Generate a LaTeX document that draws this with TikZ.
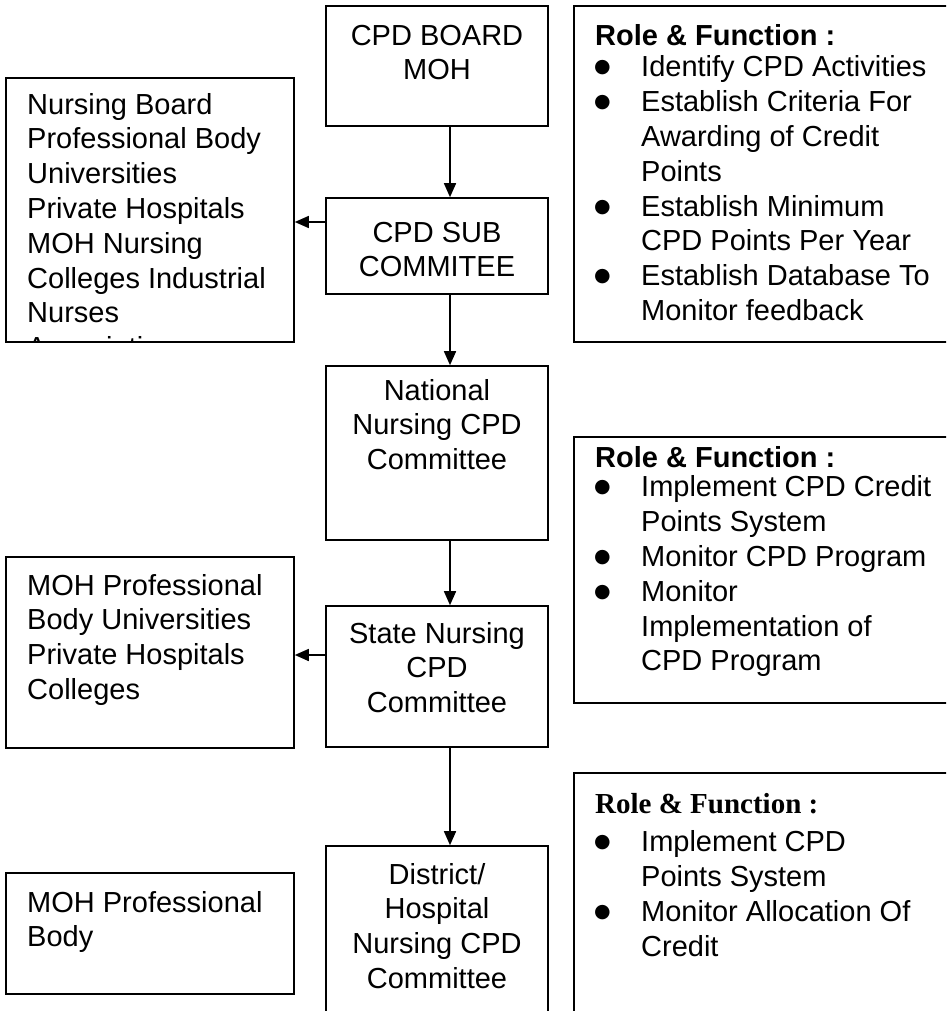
\documentclass[tikz,border=0pt]{standalone}
\usepackage{fontspec}
\setmainfont{Liberation Sans}
\newfontfamily\serifhead{Liberation Serif}
\newfontfamily\dotfont{DejaVu Sans}
\usetikzlibrary{arrows.meta}
\newcommand{\bul}{\raisebox{4pt}{\dotfont\fontsize{19}{19}\selectfont ●}}

\begin{document}
\begin{tikzpicture}[
	x=1pt, y=-1pt,
	font=\fontsize{29}{34.8}\selectfont,
	box/.style={
		draw,
		rectangle,
		line width=1.6pt,
		inner sep=0pt
	},
	txt/.style={
		inner sep=0pt
	},
	arrow/.style={
		-{Triangle[length=14pt,width=12pt]},
		line width=1.6pt
	}
	]
	\clip (0,0) rectangle (946,1011);
	\coordinate (spine) at (450,0);

	% middle column
	\node[box, minimum width=222pt, minimum height=120pt] (board) at (437,66) {};
	\node[box, minimum width=222pt, minimum height=96pt] (sub) at (437,246) {};
	\node[box, minimum width=222pt, minimum height=174pt] (national) at (437,453) {};
	\node[box, minimum width=222pt, minimum height=141pt] (state) at (437,676.5) {};
	\node[box, minimum width=222pt, minimum height=184pt] (district) at (437,938) {};

	\node[txt, anchor=north] (boardtxt) at (437,20.6) {\begin{tabular}{@{}c@{}}CPD BOARD\\MOH\end{tabular}};
	\node[txt, anchor=north] (subtxt) at (437,217.6) {\begin{tabular}{@{}c@{}}CPD SUB\\COMMITEE\end{tabular}};
	\node[txt, anchor=north] (nationaltxt) at (437,375.6) {\begin{tabular}{@{}c@{}}National\\Nursing CPD\\Committee\end{tabular}};
	\node[txt, anchor=north] (statetxt) at (437,618.6) {\begin{tabular}{@{}c@{}}State Nursing\\CPD\\Committee\end{tabular}};
	\node[txt, anchor=north] (districttxt) at (437,859.6) {\begin{tabular}{@{}c@{}}District/\\Hospital\\Nursing CPD\\Committee\end{tabular}};

	% left column
	\node[box, minimum width=288pt, minimum height=264pt] (left1) at (150,210) {};
	\node[box, minimum width=288pt, minimum height=191pt] (left2) at (150,652.5) {};
	\node[box, minimum width=288pt, minimum height=121pt] (left3) at (150,933.5) {};

	\begin{scope}
		\clip (left1.north west) rectangle (left1.south east);
		\node[txt, anchor=north west] (left1txt) at (27,89.6) {\begin{tabular}{@{}l@{}}Nursing Board\\Professional Body\\Universities\\Private Hospitals\\MOH Nursing\\Colleges Industrial\\Nurses\\Associations\end{tabular}};
	\end{scope}
	\node[txt, anchor=north west] (left2txt) at (27,570.6) {\begin{tabular}{@{}l@{}}MOH Professional\\Body Universities\\Private Hospitals\\Colleges\end{tabular}};
	\node[txt, anchor=north west] (left3txt) at (27,887.6) {\begin{tabular}{@{}l@{}}MOH Professional\\Body\end{tabular}};

	% right column
	\node[box, minimum width=386pt, minimum height=336pt] (role1) at (767,174) {};
	\node[box, minimum width=386pt, minimum height=266pt] (role2) at (767,570) {};
	\node[box, minimum width=386pt, minimum height=257pt] (role3) at (767,901.5) {};

	\node[txt, anchor=north west] (role1txt) at (594,20.6) {\begin{tabular}{@{}p{47pt}@{}l@{}}
		\multicolumn{2}{@{}l@{}}{\hspace*{1pt}\textbf{Role \& Function :}}\\[-3pt]
		\bul & Identify CPD Activities\\
		\bul & Establish Criteria For\\
		& Awarding of Credit\\
		& Points\\
		\bul & Establish Minimum\\
		& CPD Points Per Year\\
		\bul & Establish Database To\\
		& Monitor feedback
	\end{tabular}};
	\node[txt, anchor=north west] (role2txt) at (594,442.6) {\begin{tabular}{@{}p{47pt}@{}l@{}}
		\multicolumn{2}{@{}l@{}}{\hspace*{1pt}\textbf{Role \& Function :}}\\[-5pt]
		\bul & Implement CPD Credit\\
		& Points System\\
		\bul & Monitor CPD Program\\
		\bul & Monitor\\
		& Implementation of\\
		& CPD Program
	\end{tabular}};
	\node[txt, anchor=north west] (role3txt) at (594,788.6) {\begin{tabular}{@{}p{47pt}@{}l@{}}
		\multicolumn{2}{@{}l@{}}{\hspace*{1pt}{\serifhead\bfseries Role \& Function :}}\\[4pt]
		\bul & Implement CPD\\
		& Points System\\
		\bul & Monitor Allocation Of\\
		& Credit
	\end{tabular}};

	% connectors
	\draw[arrow] (board.south -| spine) -- (sub.north -| spine);
	\draw[arrow] (sub.south -| spine) -- (national.north -| spine);
	\draw[arrow] (national.south -| spine) -- (state.north -| spine);
	\draw[arrow] (state.south -| spine) -- (district.north -| spine);
	\draw[arrow] ([yshift=24pt]sub.west) -- ([yshift=24pt]sub.west -| left1.east);
	\draw[arrow] ([yshift=21.5pt]state.west) -- ([yshift=21.5pt]state.west -| left2.east);
\end{tikzpicture}
\end{document}
